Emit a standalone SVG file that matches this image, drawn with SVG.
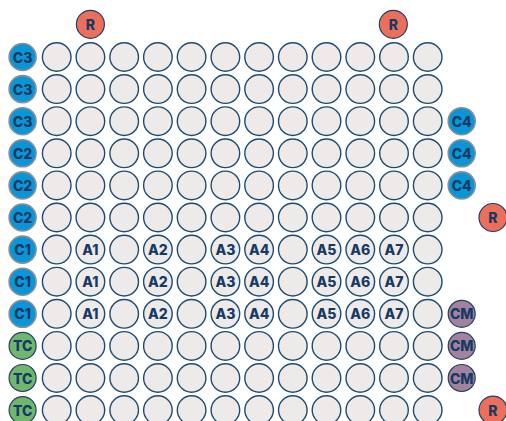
<svg xmlns="http://www.w3.org/2000/svg" xmlns:xlink="http://www.w3.org/1999/xlink" width="506" height="421" viewBox="0 0 506 421">
<style>
.w{fill:#eeeaea;stroke:#1f4a70;stroke-width:1.4}
.r{fill:#ec6f5b;stroke:#1f3f66;stroke-width:1.2}
.c{fill:#0a95d6;stroke:#8a8f95;stroke-width:1.6}
.t{fill:#70b66d;stroke:#26405e;stroke-width:1.2}
.m{fill:#a2829f;stroke:#26405e;stroke-width:1.2}
text{font-family:Inter,"Liberation Sans",sans-serif;font-weight:800;font-size:14px;fill:#163a63;text-anchor:middle;dominant-baseline:central}
</style>
<defs>
<circle id="W" r="14.3" class="w"/>
</defs>
<g id="plate">
<g id="row1"><use href="#W" x="56.7" y="57"/><use href="#W" x="90.4" y="57"/><use href="#W" x="124.2" y="57"/><use href="#W" x="157.9" y="57"/><use href="#W" x="191.6" y="57"/><use href="#W" x="225.4" y="57"/><use href="#W" x="259.1" y="57"/><use href="#W" x="292.8" y="57"/><use href="#W" x="326.5" y="57"/><use href="#W" x="360.3" y="57"/><use href="#W" x="394" y="57"/><use href="#W" x="427.7" y="57"/></g>
<g id="row2"><use href="#W" x="56.7" y="89.1"/><use href="#W" x="90.4" y="89.1"/><use href="#W" x="124.2" y="89.1"/><use href="#W" x="157.9" y="89.1"/><use href="#W" x="191.6" y="89.1"/><use href="#W" x="225.4" y="89.1"/><use href="#W" x="259.1" y="89.1"/><use href="#W" x="292.8" y="89.1"/><use href="#W" x="326.5" y="89.1"/><use href="#W" x="360.3" y="89.1"/><use href="#W" x="394" y="89.1"/><use href="#W" x="427.7" y="89.1"/></g>
<g id="row3"><use href="#W" x="56.7" y="121.2"/><use href="#W" x="90.4" y="121.2"/><use href="#W" x="124.2" y="121.2"/><use href="#W" x="157.9" y="121.2"/><use href="#W" x="191.6" y="121.2"/><use href="#W" x="225.4" y="121.2"/><use href="#W" x="259.1" y="121.2"/><use href="#W" x="292.8" y="121.2"/><use href="#W" x="326.5" y="121.2"/><use href="#W" x="360.3" y="121.2"/><use href="#W" x="394" y="121.2"/><use href="#W" x="427.7" y="121.2"/></g>
<g id="row4"><use href="#W" x="56.7" y="153.3"/><use href="#W" x="90.4" y="153.3"/><use href="#W" x="124.2" y="153.3"/><use href="#W" x="157.9" y="153.3"/><use href="#W" x="191.6" y="153.3"/><use href="#W" x="225.4" y="153.3"/><use href="#W" x="259.1" y="153.3"/><use href="#W" x="292.8" y="153.3"/><use href="#W" x="326.5" y="153.3"/><use href="#W" x="360.3" y="153.3"/><use href="#W" x="394" y="153.3"/><use href="#W" x="427.7" y="153.3"/></g>
<g id="row5"><use href="#W" x="56.7" y="185.4"/><use href="#W" x="90.4" y="185.4"/><use href="#W" x="124.2" y="185.4"/><use href="#W" x="157.9" y="185.4"/><use href="#W" x="191.6" y="185.4"/><use href="#W" x="225.4" y="185.4"/><use href="#W" x="259.1" y="185.4"/><use href="#W" x="292.8" y="185.4"/><use href="#W" x="326.5" y="185.4"/><use href="#W" x="360.3" y="185.4"/><use href="#W" x="394" y="185.4"/><use href="#W" x="427.7" y="185.4"/></g>
<g id="row6"><use href="#W" x="56.7" y="217.5"/><use href="#W" x="90.4" y="217.5"/><use href="#W" x="124.2" y="217.5"/><use href="#W" x="157.9" y="217.5"/><use href="#W" x="191.6" y="217.5"/><use href="#W" x="225.4" y="217.5"/><use href="#W" x="259.1" y="217.5"/><use href="#W" x="292.8" y="217.5"/><use href="#W" x="326.5" y="217.5"/><use href="#W" x="360.3" y="217.5"/><use href="#W" x="394" y="217.5"/><use href="#W" x="427.7" y="217.5"/></g>
<g id="row7"><use href="#W" x="56.7" y="249.6"/><use href="#W" x="90.4" y="249.6"/><use href="#W" x="124.2" y="249.6"/><use href="#W" x="157.9" y="249.6"/><use href="#W" x="191.6" y="249.6"/><use href="#W" x="225.4" y="249.6"/><use href="#W" x="259.1" y="249.6"/><use href="#W" x="292.8" y="249.6"/><use href="#W" x="326.5" y="249.6"/><use href="#W" x="360.3" y="249.6"/><use href="#W" x="394" y="249.6"/><use href="#W" x="427.7" y="249.6"/>
<text x="90.4" y="249.6">A1</text><text x="157.9" y="249.6">A2</text><text x="225.4" y="249.6">A3</text><text x="259.1" y="249.6">A4</text><text x="326.5" y="249.6">A5</text><text x="360.3" y="249.6">A6</text><text x="394" y="249.6">A7</text></g>
<g id="row8"><use href="#W" x="56.7" y="281.7"/><use href="#W" x="90.4" y="281.7"/><use href="#W" x="124.2" y="281.7"/><use href="#W" x="157.9" y="281.7"/><use href="#W" x="191.6" y="281.7"/><use href="#W" x="225.4" y="281.7"/><use href="#W" x="259.1" y="281.7"/><use href="#W" x="292.8" y="281.7"/><use href="#W" x="326.5" y="281.7"/><use href="#W" x="360.3" y="281.7"/><use href="#W" x="394" y="281.7"/><use href="#W" x="427.7" y="281.7"/>
<text x="90.4" y="281.7">A1</text><text x="157.9" y="281.7">A2</text><text x="225.4" y="281.7">A3</text><text x="259.1" y="281.7">A4</text><text x="326.5" y="281.7">A5</text><text x="360.3" y="281.7">A6</text><text x="394" y="281.7">A7</text></g>
<g id="row9"><use href="#W" x="56.7" y="313.8"/><use href="#W" x="90.4" y="313.8"/><use href="#W" x="124.2" y="313.8"/><use href="#W" x="157.9" y="313.8"/><use href="#W" x="191.6" y="313.8"/><use href="#W" x="225.4" y="313.8"/><use href="#W" x="259.1" y="313.8"/><use href="#W" x="292.8" y="313.8"/><use href="#W" x="326.5" y="313.8"/><use href="#W" x="360.3" y="313.8"/><use href="#W" x="394" y="313.8"/><use href="#W" x="427.7" y="313.8"/>
<text x="90.4" y="313.8">A1</text><text x="157.9" y="313.8">A2</text><text x="225.4" y="313.8">A3</text><text x="259.1" y="313.8">A4</text><text x="326.5" y="313.8">A5</text><text x="360.3" y="313.8">A6</text><text x="394" y="313.8">A7</text></g>
<g id="row10"><use href="#W" x="56.7" y="345.9"/><use href="#W" x="90.4" y="345.9"/><use href="#W" x="124.2" y="345.9"/><use href="#W" x="157.9" y="345.9"/><use href="#W" x="191.6" y="345.9"/><use href="#W" x="225.4" y="345.9"/><use href="#W" x="259.1" y="345.9"/><use href="#W" x="292.8" y="345.9"/><use href="#W" x="326.5" y="345.9"/><use href="#W" x="360.3" y="345.9"/><use href="#W" x="394" y="345.9"/><use href="#W" x="427.7" y="345.9"/></g>
<g id="row11"><use href="#W" x="56.7" y="378"/><use href="#W" x="90.4" y="378"/><use href="#W" x="124.2" y="378"/><use href="#W" x="157.9" y="378"/><use href="#W" x="191.6" y="378"/><use href="#W" x="225.4" y="378"/><use href="#W" x="259.1" y="378"/><use href="#W" x="292.8" y="378"/><use href="#W" x="326.5" y="378"/><use href="#W" x="360.3" y="378"/><use href="#W" x="394" y="378"/><use href="#W" x="427.7" y="378"/></g>
<g id="row12"><use href="#W" x="56.7" y="410.1"/><use href="#W" x="90.4" y="410.1"/><use href="#W" x="124.2" y="410.1"/><use href="#W" x="157.9" y="410.1"/><use href="#W" x="191.6" y="410.1"/><use href="#W" x="225.4" y="410.1"/><use href="#W" x="259.1" y="410.1"/><use href="#W" x="292.8" y="410.1"/><use href="#W" x="326.5" y="410.1"/><use href="#W" x="360.3" y="410.1"/><use href="#W" x="394" y="410.1"/><use href="#W" x="427.7" y="410.1"/></g>
</g>
<g id="r-top1"><circle class="r" cx="90.4" cy="24.3" r="14"/><text x="90.4" y="24.3">R</text></g>
<g id="r-top2"><circle class="r" cx="393.3" cy="24.3" r="14"/><text x="393.3" y="24.3">R</text></g>
<g id="r-right1"><circle class="r" cx="493" cy="217.5" r="14"/><text x="493" y="217.5">R</text></g>
<g id="r-right2"><circle class="r" cx="493" cy="410.1" r="14"/><text x="493" y="410.1">R</text></g>
<g id="c3-1"><circle class="c" cx="22.6" cy="57" r="13.5"/><text x="22.6" y="57">C3</text></g>
<g id="c3-2"><circle class="c" cx="22.6" cy="89.1" r="13.5"/><text x="22.6" y="89.1">C3</text></g>
<g id="c3-3"><circle class="c" cx="22.6" cy="121.2" r="13.5"/><text x="22.6" y="121.2">C3</text></g>
<g id="c2-1"><circle class="c" cx="22.6" cy="153.3" r="13.5"/><text x="22.6" y="153.3">C2</text></g>
<g id="c2-2"><circle class="c" cx="22.6" cy="185.4" r="13.5"/><text x="22.6" y="185.4">C2</text></g>
<g id="c2-3"><circle class="c" cx="22.6" cy="217.5" r="13.5"/><text x="22.6" y="217.5">C2</text></g>
<g id="c1-1"><circle class="c" cx="22.6" cy="249.6" r="13.5"/><text x="22.6" y="249.6">C1</text></g>
<g id="c1-2"><circle class="c" cx="22.6" cy="281.7" r="13.5"/><text x="22.6" y="281.7">C1</text></g>
<g id="c1-3"><circle class="c" cx="22.6" cy="313.8" r="13.5"/><text x="22.6" y="313.8">C1</text></g>
<g id="tc-1"><circle class="t" cx="22.6" cy="345.9" r="13.5"/><text x="22.6" y="345.9">TC</text></g>
<g id="tc-2"><circle class="t" cx="22.6" cy="378" r="13.5"/><text x="22.6" y="378">TC</text></g>
<g id="tc-3"><circle class="t" cx="22.6" cy="410.1" r="13.5"/><text x="22.6" y="410.1">TC</text></g>
<g id="c4-1"><circle class="c" cx="461.7" cy="121.2" r="13.5"/><text x="461.7" y="121.2">C4</text></g>
<g id="c4-2"><circle class="c" cx="461.7" cy="153.3" r="13.5"/><text x="461.7" y="153.3">C4</text></g>
<g id="c4-3"><circle class="c" cx="461.7" cy="185.4" r="13.5"/><text x="461.7" y="185.4">C4</text></g>
<g id="cm-1"><circle class="m" cx="461.7" cy="313.8" r="13.5"/><text x="461.7" y="313.8">CM</text></g>
<g id="cm-2"><circle class="m" cx="461.7" cy="345.9" r="13.5"/><text x="461.7" y="345.9">CM</text></g>
<g id="cm-3"><circle class="m" cx="461.7" cy="378" r="13.5"/><text x="461.7" y="378">CM</text></g>
</svg>
